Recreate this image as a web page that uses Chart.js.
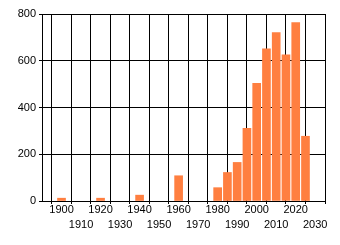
<!DOCTYPE html>
<html><head><meta charset="utf-8">
<script src="https://cdn.jsdelivr.net/npm/chart.js@4"></script>
<style>html,body{margin:0;padding:0;background:#fff}#wrap{width:340px;height:245px}</style>
</head><body><div id="wrap"><canvas id="c" width="340" height="245"></canvas></div>
<script>
const years = [1900, 1920, 1940, 1960, 1980, 1985, 1990, 1995, 2000, 2005, 2010, 2015, 2020, 2025];
const counts = [12, 12, 25, 108, 57, 122, 165, 311, 503, 651, 720, 625, 763, 277];
const xTicks = [1900,1910,1920,1930,1940,1950,1960,1970,1980,1990,2000,2010,2020,2030];
const yTicks = [0, 200, 400, 600, 800];

const pts = years.map((y, i) => ({x: y, y: counts[i]}));
new Chart(document.getElementById('c'), {
  type: 'bar',
  data: { datasets: [{ data: pts, backgroundColor: '#ff7f40', borderWidth: 0, barThickness: 8 }] },
  options: {
    responsive: false, animation: false,
    layout: { padding: { left: 0, right: 15, top: 14, bottom: 0 } },
    plugins: { legend: { display: false }, tooltip: { enabled: false } },
    scales: {
      x: {
        type: 'linear', min: 1890, max: 2035, offset: false,
        afterBuildTicks: s => { s.ticks = xTicks.map(v => ({value: v})); },
        afterFit: s => { s.height = 44; },
        grid: { color: '#000', lineWidth: 1, tickLength: 3, drawOnChartArea: true },
        border: { color: '#000', width: 1 },
        ticks: {
          color: '#000', padding: -2, maxRotation: 0, autoSkip: false,
          font: { family: 'Liberation Sans', size: 11, lineHeight: 1.4 },
          callback: v => (Math.round(v / 10) % 2 === 0) ? [String(v)] : ['', String(v)]
        }
      },
      y: {
        min: 0, max: 800,
        afterBuildTicks: s => { s.ticks = yTicks.map(v => ({value: v})); },
        afterFit: s => { s.width = 42; },
        grid: { color: '#000', lineWidth: 1, tickLength: 3 },
        border: { color: '#000', width: 1 },
        ticks: { color: '#000', padding: 3, font: { family: 'Liberation Sans', size: 11 } }
      }
    }
  }
});
</script></body></html>
